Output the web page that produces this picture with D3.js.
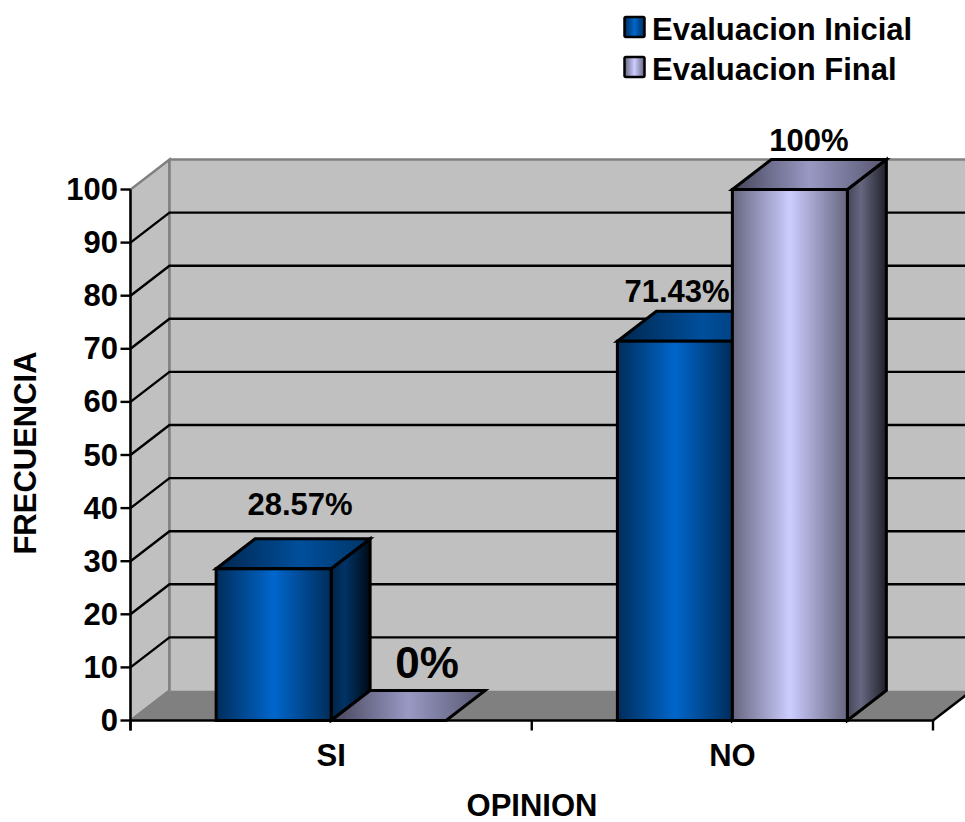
<!DOCTYPE html>
<html>
<head>
<meta charset="utf-8">
<script src="https://cdn.jsdelivr.net/npm/d3@7"></script>
<style>
  html, body { margin: 0; padding: 0; background: #fff; }
  svg { display: block; }
  text { font-family: "Liberation Sans", Arial, sans-serif; font-weight: bold; fill: #000; }
</style>
</head>
<body>
<svg id="chart" width="965" height="822"></svg>
<script>
// Survey results: share of answers per opinion and evaluation round
const categories = ["SI", "NO"];
const seriesNames = ["Evaluacion Inicial", "Evaluacion Final"];
const inicialValues = [28.57, 71.43];
const finalValues = [0, 100];
const valueLabelsInicial = ["28.57%", "71.43%"];
const valueLabelsFinal = ["0%", "100%"];
const yTicks = [0, 10, 20, 30, 40, 50, 60, 70, 80, 90, 100];
const xTitle = "OPINION";
const yTitle = "FRECUENCIA";

const svg = d3.select("#chart");
const defs = svg.append("defs");

// Oblique offset of the pseudo-3D box
const depthX = 39, depthY = -30;
const y = d3.scaleLinear().domain([0, 100]).range([720.5, 189.5]);
const x = d3.scaleBand().domain(categories).range([130.5, 933]);
const inner = d3.scaleBand().domain(seriesNames).range([0, 230]);
const innerOffset = (x.bandwidth() - inner.range()[1]) / 2;

// Horizontal shading ramps for the bar faces
function ramp(id, stops) {
  const g = defs.append("linearGradient").attr("id", id)
    .attr("x1", 0).attr("x2", 1).attr("y1", 0).attr("y2", 0);
  stops.forEach(([o, c]) => g.append("stop").attr("offset", o).attr("stop-color", c));
}
ramp("blueFront", [[0, "#002d5a"], [0.5, "#0066cc"], [1, "#002d5a"]]);
ramp("blueTop",   [[0, "#00264d"], [0.55, "#004f9c"], [1, "#003566"]]);
ramp("blueSide",  [[0, "#002244"], [0.35, "#003366"], [1, "#000a14"]]);
ramp("lilacFront",[[0, "#66667f"], [0.5, "#ccccff"], [1, "#66667f"]]);
ramp("lilacTop",  [[0, "#44445a"], [0.5, "#9999c4"], [1, "#55556e"]]);
ramp("lilacSide", [[0, "#454558"], [0.35, "#666680"], [1, "#20202a"]]);
const faces = {
  [seriesNames[0]]: ["blueFront", "blueTop", "blueSide"],
  [seriesNames[1]]: ["lilacFront", "lilacTop", "lilacSide"]
};

const poly = pts => pts.map(p => p.join(",")).join(" ");
const x0 = x.range()[0], x1 = x.range()[1];
const yBase = y(0), yTop = y(100);

// Chart box: side wall, back wall, floor
const box = svg.append("g");
box.append("polygon")
  .attr("points", poly([[x0, yBase], [x0 + depthX, yBase + depthY], [x0 + depthX, yTop + depthY], [x0, yTop]]))
  .attr("fill", "#c0c0c0").attr("stroke", "#808080").attr("stroke-width", 2.5);
box.append("rect")
  .attr("x", x0 + depthX).attr("y", yTop + depthY)
  .attr("width", 965 - x0 - depthX).attr("height", yBase - yTop)
  .attr("fill", "#c0c0c0");
box.append("line")
  .attr("x1", x0 + depthX).attr("x2", 965)
  .attr("y1", yTop + depthY).attr("y2", yTop + depthY)
  .attr("stroke", "#808080").attr("stroke-width", 2.5);
box.append("line")
  .attr("x1", x0 + depthX).attr("x2", x0 + depthX)
  .attr("y1", yTop + depthY).attr("y2", yBase + depthY)
  .attr("stroke", "#808080").attr("stroke-width", 2.5);
box.append("polygon")
  .attr("points", poly([[x0, yBase], [x0 + depthX, yBase + depthY], [x1 + depthX, yBase + depthY], [x1, yBase]]))
  .attr("fill", "#808080");

// Gridlines wrap from the side wall onto the back wall
const grid = svg.append("g").attr("stroke", "#000").attr("stroke-width", 2.4).attr("fill", "none");
yTicks.filter(t => t > 0 && t < 100).forEach(t => {
  grid.append("polyline")
    .attr("points", poly([[x0, y(t)], [x0 + depthX, y(t) + depthY], [965, y(t) + depthY]]));
});
grid.append("line")
  .attr("x1", x0).attr("x2", x0 + depthX)
  .attr("y1", y(0)).attr("y2", y(0) + depthY)
  .attr("stroke", "#808080").attr("stroke-width", 1.5);

// Bars, category by category, so later bars overlap earlier ones
const rows = categories.flatMap((c, i) => [
  { cat: c, name: seriesNames[0], value: inicialValues[i], label: valueLabelsInicial[i] },
  { cat: c, name: seriesNames[1], value: finalValues[i], label: valueLabelsFinal[i] }
]);
const bars = svg.append("g").attr("stroke", "#000").attr("stroke-width", 3).attr("stroke-linejoin", "miter");
rows.forEach(d => {
  const left = x(d.cat) + innerOffset + inner(d.name);
  const right = left + inner.bandwidth();
  const top = y(d.value), base = y(0);
  const [front, lid, side] = faces[d.name];
  const g = bars.append("g");
  if (d.value > 0) {
    g.append("polygon").attr("fill", `url(#${side})`)
      .attr("points", poly([[right, base], [right + depthX, base + depthY], [right + depthX, top + depthY], [right, top]]));
  }
  g.append("polygon").attr("fill", `url(#${lid})`)
    .attr("points", poly([[left, top], [left + depthX, top + depthY], [right + depthX, top + depthY], [right, top]]));
  if (d.value > 0) {
    g.append("rect").attr("fill", `url(#${front})`)
      .attr("x", left).attr("y", top).attr("width", right - left).attr("height", base - top);
  }
});

// Base line, value axis and category ticks
const axes = svg.append("g").attr("stroke", "#000").attr("stroke-width", 2.4);
axes.append("line").attr("x1", x0).attr("x2", x1).attr("y1", yBase).attr("y2", yBase);
axes.append("line").attr("x1", x1).attr("x2", x1 + depthX).attr("y1", yBase).attr("y2", yBase + depthY);
axes.append("line").attr("x1", x0).attr("x2", x0).attr("y1", yTop).attr("y2", yBase + 10);
yTicks.forEach(t => {
  axes.append("line").attr("x1", x0 - 10).attr("x2", x0).attr("y1", y(t)).attr("y2", y(t));
});
[x0, x0 + x.bandwidth(), x1].forEach(px => {
  axes.append("line").attr("x1", px).attr("x2", px).attr("y1", yBase).attr("y2", yBase + 10);
});

// Value axis labels
svg.append("g").selectAll("text").data(yTicks).join("text")
  .attr("x", 118).attr("y", d => y(d) + 10.5)
  .attr("text-anchor", "end").attr("font-size", 31)
  .text(d => d);

// Category labels and axis titles
svg.append("g").selectAll("text").data(categories).join("text")
  .attr("x", d => x(d) + x.bandwidth() / 2).attr("y", 766)
  .attr("text-anchor", "middle").attr("font-size", 31)
  .text(d => d);
svg.append("text").attr("x", 532).attr("y", 816)
  .attr("text-anchor", "middle").attr("font-size", 31).text(xTitle);
svg.append("text").attr("transform", "translate(36,453) rotate(-90)")
  .attr("text-anchor", "middle").attr("font-size", 31).text(yTitle);

// Value labels above each bar
const labelPos = {
  "28.57%": [300, 515, 31],
  "0%": [427, 678, 44],
  "71.43%": [677, 302, 31],
  "100%": [809, 151, 31]
};
svg.append("g").selectAll("text").data(rows).join("text")
  .attr("x", d => labelPos[d.label][0]).attr("y", d => labelPos[d.label][1])
  .attr("text-anchor", "middle").attr("font-size", d => labelPos[d.label][2])
  .text(d => d.label);

// Legend
const legend = svg.append("g");
seriesNames.forEach((name, i) => {
  const top = 17 + i * 40;
  legend.append("rect")
    .attr("x", 624.5).attr("y", top).attr("width", 20).attr("height", 20)
    .attr("rx", 1.5)
    .attr("fill", `url(#${faces[name][0]})`).attr("stroke", "#000").attr("stroke-width", 2.5);
  legend.append("text").attr("x", 652).attr("y", top + 23)
    .attr("font-size", 31).text(name);
});
</script>
</body>
</html>
